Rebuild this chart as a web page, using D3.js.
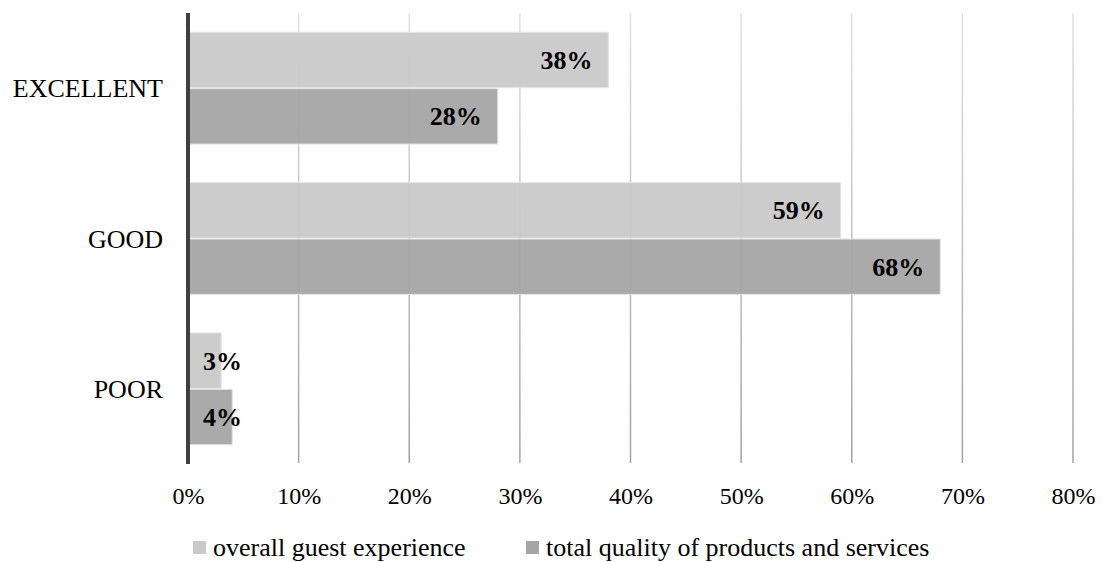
<!DOCTYPE html>
<html>
<head>
<meta charset="utf-8">
<script src="https://cdn.jsdelivr.net/npm/d3@7"></script>
<style>
  html, body { margin: 0; padding: 0; background: #fff; }
  svg { display: block; font-family: "Liberation Serif", "Times New Roman", serif; }
</style>
</head>
<body>
<svg id="chart" width="1102" height="562"></svg>
<script>
// Survey ratings, share of respondents per rating
const categories = ["EXCELLENT", "GOOD", "POOR"];
const seriesNames = ["overall guest experience", "total quality of products and services"];
const guestExperience = [0.38, 0.59, 0.03];
const productQuality = [0.28, 0.68, 0.04];
const tickValues = [0, 0.1, 0.2, 0.3, 0.4, 0.5, 0.6, 0.7, 0.8];
const seriesColors = ["#c9c9c9", "#a5a5a5"];

const series = [guestExperience, productQuality];
const svg = d3.select("#chart");

const plot = { left: 188, right: 1073, top: 13, bottom: 464 };

const x = d3.scaleLinear().domain([0, 0.8]).range([plot.left, plot.right]);
const y0 = d3.scaleBand().domain(categories).range([plot.top, plot.bottom])
  .paddingInner(0.25).paddingOuter(0.125);
const y1 = d3.scaleBand().domain(d3.range(series.length)).range([0, y0.bandwidth()]);

// Vertical gradient for the grid lines (light at top, darker at bottom)
const defs = svg.append("defs");
const grad = defs.append("linearGradient")
  .attr("id", "gridGrad")
  .attr("gradientUnits", "userSpaceOnUse")
  .attr("x1", 0).attr("y1", plot.top).attr("x2", 0).attr("y2", plot.bottom);
grad.append("stop").attr("offset", "0%").attr("stop-color", "#e2e2e2");
grad.append("stop").attr("offset", "100%").attr("stop-color", "#a2a2a2");

// Grid lines
svg.append("g").selectAll("line")
  .data(tickValues.filter(d => d > 0))
  .join("line")
  .attr("x1", d => x(d)).attr("x2", d => x(d))
  .attr("y1", plot.top).attr("y2", plot.bottom - 1)
  .attr("stroke", "url(#gridGrad)")
  .attr("stroke-width", 1.5);

// Bars
const groups = svg.append("g").selectAll("g")
  .data(categories)
  .join("g")
  .attr("transform", c => `translate(0,${y0(c)})`);

groups.each(function(c, ci) {
  const g = d3.select(this);
  series.forEach((vals, si) => {
    const v = vals[ci];
    const top = y1(si) + 0.5;
    const h = y1.bandwidth() - 1;
    g.append("rect")
      .attr("x", x(0))
      .attr("y", top)
      .attr("width", x(v) - x(0))
      .attr("height", h)
      .attr("fill", seriesColors[si])
      .attr("fill-opacity", 0.95)
      .attr("stroke", "#e4e4e4")
      .attr("stroke-width", 1);
    // Value label: inside the bar end, pushed right when the bar is short
    const labelX = Math.max(x(v) - 16, x(0) + 54);
    g.append("text")
      .attr("x", labelX)
      .attr("y", top + h / 2 + 9)
      .attr("text-anchor", "end")
      .attr("font-size", 26)
      .attr("font-weight", "bold")
      .attr("fill", "#000")
      .text(d3.format(".0%")(v));
  });
});

// Category labels
svg.append("g").selectAll("text")
  .data(categories)
  .join("text")
  .attr("x", 163)
  .attr("y", c => y0(c) + y0.bandwidth() / 2 + 9)
  .attr("text-anchor", "end")
  .attr("font-size", 26)
  .attr("fill", "#000")
  .text(c => c);

// Vertical axis line
svg.append("line")
  .attr("x1", x(0)).attr("x2", x(0))
  .attr("y1", plot.top).attr("y2", plot.bottom)
  .attr("stroke", "#404040")
  .attr("stroke-width", 4);

// X axis tick labels
const xAxis = d3.axisBottom(x).tickValues(tickValues).tickFormat(d3.format(".0%")).tickSize(0);
const axisG = svg.append("g")
  .attr("transform", `translate(0,${plot.bottom})`)
  .call(xAxis);
axisG.select(".domain").remove();
axisG.selectAll("text")
  .attr("font-family", "Liberation Serif, Times New Roman, serif")
  .attr("font-size", 24)
  .attr("fill", "#000")
  .attr("dy", null)
  .attr("y", 40);

// Legend
const legendItems = [
  { name: seriesNames[0], color: seriesColors[0], x: 193 },
  { name: seriesNames[1], color: seriesColors[1], x: 526 }
];
const legend = svg.append("g");
legendItems.forEach(it => {
  legend.append("rect")
    .attr("x", it.x).attr("y", 541)
    .attr("width", 13).attr("height", 13)
    .attr("fill", it.color);
  legend.append("text")
    .attr("x", it.x + 20).attr("y", 556)
    .attr("font-size", 26)
    .attr("fill", "#000")
    .text(it.name);
});
</script>
</body>
</html>
